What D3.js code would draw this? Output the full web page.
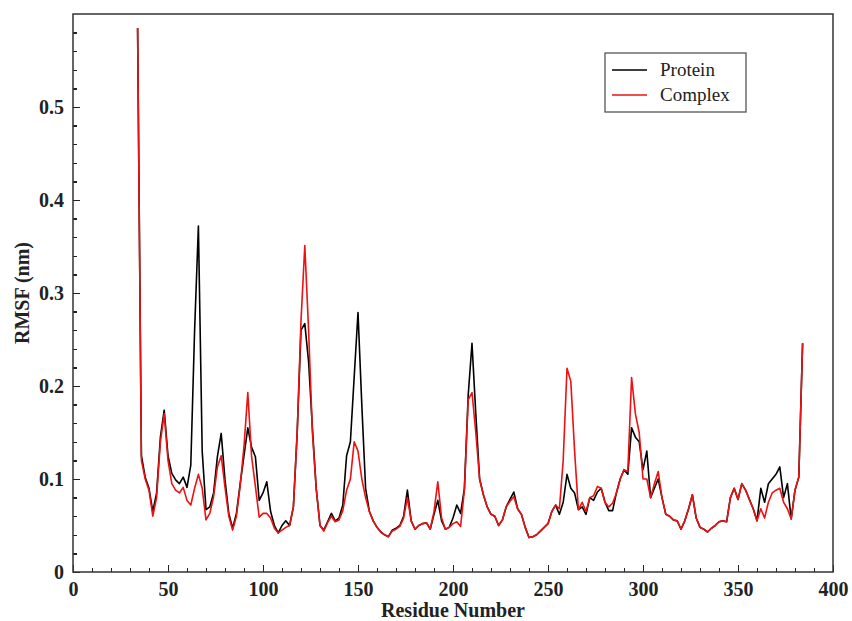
<!DOCTYPE html>
<html>
<head>
    <title>RMSF Protein vs Complex</title>
    <script src="https://d3js.org/d3.v7.min.js"></script>
    <style>
        body { margin: 0; background: #fff; }
        .axis path { display: none; }
        .axis line { stroke: #222; stroke-width: 1.3; shape-rendering: crispEdges; }
        .axis text { font-family: "Liberation Serif", "Times New Roman", serif; font-weight: bold; font-size: 20px; fill: #222; }
        .label { font-family: "Liberation Serif", "Times New Roman", serif; font-weight: bold; font-size: 20px; fill: #222; }
        .legend text { font-family: "Liberation Serif", "Times New Roman", serif; font-size: 19px; fill: #222; }
    </style>
</head>
<body>
    <script>
        // Residue numbers (every 2nd residue)
        const residues = d3.range(34, 385, 2);

        // RMSF (nm) of the free protein
        const protein = [
            0.585, 0.125, 0.102, 0.090, 0.065, 0.085, 0.145, 0.174, 0.125, 0.106,
            0.099, 0.095, 0.102, 0.091, 0.115, 0.260, 0.372, 0.130, 0.067, 0.070,
            0.085, 0.124, 0.149, 0.099, 0.063, 0.047, 0.063, 0.095, 0.125, 0.155,
            0.134, 0.124, 0.077, 0.085, 0.097, 0.065, 0.050, 0.042, 0.050, 0.055,
            0.050, 0.070, 0.150, 0.260, 0.267, 0.226, 0.155, 0.090, 0.050, 0.045,
            0.054, 0.063, 0.055, 0.058, 0.072, 0.125, 0.140, 0.210, 0.279, 0.180,
            0.090, 0.065, 0.055, 0.048, 0.043, 0.040, 0.038, 0.045, 0.047, 0.050,
            0.060, 0.088, 0.055, 0.046, 0.050, 0.052, 0.053, 0.046, 0.062, 0.077,
            0.055, 0.046, 0.048, 0.058, 0.072, 0.063, 0.090, 0.190, 0.246, 0.170,
            0.100, 0.083, 0.070, 0.062, 0.060, 0.050, 0.056, 0.070, 0.078, 0.086,
            0.068, 0.062, 0.048, 0.037, 0.038, 0.040, 0.044, 0.048, 0.052, 0.065,
            0.072, 0.062, 0.075, 0.105, 0.090, 0.085, 0.067, 0.070, 0.062, 0.080,
            0.077, 0.086, 0.090, 0.075, 0.066, 0.066, 0.085, 0.100, 0.110, 0.105,
            0.155, 0.145, 0.140, 0.110, 0.130, 0.080, 0.090, 0.100, 0.080, 0.062,
            0.060, 0.056, 0.055, 0.046, 0.055, 0.068, 0.083, 0.058, 0.048, 0.046,
            0.043, 0.047, 0.050, 0.054, 0.055, 0.054, 0.080, 0.090, 0.078, 0.095,
            0.088, 0.078, 0.068, 0.055, 0.090, 0.075, 0.095, 0.100, 0.105, 0.113,
            0.080, 0.095, 0.057, 0.088, 0.102, 0.246
        ];

        // RMSF (nm) of the protein-ligand complex
        const complex = [
            0.585, 0.120, 0.100, 0.088, 0.060, 0.080, 0.140, 0.170, 0.120, 0.095,
            0.088, 0.085, 0.091, 0.077, 0.072, 0.090, 0.105, 0.090, 0.056, 0.063,
            0.081, 0.113, 0.125, 0.091, 0.060, 0.045, 0.060, 0.093, 0.135, 0.193,
            0.124, 0.092, 0.059, 0.063, 0.063, 0.058, 0.047, 0.042, 0.045, 0.048,
            0.050, 0.070, 0.150, 0.270, 0.351, 0.260, 0.150, 0.090, 0.050, 0.044,
            0.053, 0.060, 0.054, 0.056, 0.066, 0.088, 0.100, 0.140, 0.130, 0.100,
            0.080, 0.065, 0.055, 0.048, 0.043, 0.040, 0.038, 0.044, 0.046, 0.049,
            0.058, 0.080, 0.055, 0.046, 0.050, 0.052, 0.053, 0.046, 0.065, 0.097,
            0.058, 0.046, 0.048, 0.052, 0.054, 0.049, 0.088, 0.185, 0.193, 0.150,
            0.100, 0.083, 0.070, 0.062, 0.060, 0.050, 0.056, 0.070, 0.076, 0.081,
            0.068, 0.062, 0.048, 0.037, 0.038, 0.040, 0.044, 0.048, 0.052, 0.065,
            0.072, 0.068, 0.120, 0.219, 0.205, 0.130, 0.067, 0.075, 0.065, 0.080,
            0.082, 0.092, 0.090, 0.075, 0.070, 0.074, 0.085, 0.100, 0.110, 0.108,
            0.209, 0.170, 0.150, 0.100, 0.100, 0.080, 0.095, 0.108, 0.080, 0.062,
            0.060, 0.056, 0.055, 0.046, 0.055, 0.068, 0.083, 0.058, 0.048, 0.046,
            0.043, 0.047, 0.050, 0.054, 0.055, 0.054, 0.080, 0.090, 0.078, 0.095,
            0.088, 0.078, 0.068, 0.055, 0.068, 0.058, 0.075, 0.085, 0.088, 0.090,
            0.075, 0.068, 0.057, 0.088, 0.102, 0.246
        ];

        const xTicks = [0, 50, 100, 150, 200, 250, 300, 350, 400];
        const yTicks = [0, 0.1, 0.2, 0.3, 0.4, 0.5];

        // SVG dimensions
        const svgWidth = 852;
        const svgHeight = 621;
        const margin = { top: 14, right: 19, bottom: 49, left: 73 };
        const width = svgWidth - margin.left - margin.right;
        const height = svgHeight - margin.top - margin.bottom;

        const svg = d3.select("body").append("svg")
            .attr("width", svgWidth)
            .attr("height", svgHeight);

        const g = svg.append("g")
            .attr("transform", `translate(${margin.left},${margin.top})`);

        // Scales
        const xScale = d3.scaleLinear().domain([0, 400]).range([0, width]);
        const yScale = d3.scaleLinear().domain([0, 0.6]).range([height, 0]);

        // Lines (protein first, complex drawn on top)
        const line = d3.line()
            .x((d, i) => xScale(residues[i]))
            .y(d => yScale(d));

        g.append("path")
            .datum(protein)
            .attr("fill", "none")
            .attr("stroke", "#000")
            .attr("stroke-width", 1.6)
            .attr("stroke-linejoin", "round")
            .attr("d", line);

        g.append("path")
            .datum(complex)
            .attr("fill", "none")
            .attr("stroke", "#ee1111")
            .attr("stroke-width", 1.6)
            .attr("stroke-linejoin", "round")
            .attr("d", line);

        // x-axis: major and minor ticks pointing inward
        g.append("g")
            .attr("class", "axis")
            .attr("transform", `translate(0,${height})`)
            .call(d3.axisBottom(xScale).tickValues(d3.range(0, 401, 10)).tickSize(-4).tickFormat(""));
        g.append("g")
            .attr("class", "axis")
            .attr("transform", `translate(0,${height})`)
            .call(d3.axisBottom(xScale).tickValues(xTicks).tickSizeInner(-7).tickSizeOuter(0).tickPadding(9).tickFormat(d3.format("d")))
            .selectAll("text").attr("dy", "0.75em");

        // y-axis
        g.append("g")
            .attr("class", "axis")
            .call(d3.axisLeft(yScale).tickValues(d3.range(0, 0.59, 0.02)).tickSize(-4).tickFormat(""));
        g.append("g")
            .attr("class", "axis")
            .call(d3.axisLeft(yScale).tickValues(yTicks).tickSizeInner(-7).tickSizeOuter(0).tickPadding(9).tickFormat(d => d === 0 ? "0" : d3.format(".1f")(d)));

        // frame
        g.append("rect")
            .attr("width", width)
            .attr("height", height)
            .attr("fill", "none")
            .attr("stroke", "#333")
            .attr("stroke-width", 1.5);

        // axis titles
        svg.append("text")
            .attr("class", "label")
            .attr("x", margin.left + width / 2)
            .attr("y", 617)
            .attr("text-anchor", "middle")
            .text("Residue Number");

        svg.append("text")
            .attr("class", "label")
            .attr("transform", `translate(29,${margin.top + height / 2}) rotate(-90)`)
            .attr("text-anchor", "middle")
            .text("RMSF (nm)");

        // legend
        const legend = svg.append("g").attr("class", "legend");
        legend.append("rect")
            .attr("x", 605).attr("y", 53)
            .attr("width", 141).attr("height", 59)
            .attr("fill", "#fff")
            .attr("stroke", "#555")
            .attr("stroke-width", 1.3);

        const items = [
            { name: "Protein", color: "#000" },
            { name: "Complex", color: "#ee1111" }
        ];
        items.forEach((it, i) => {
            const y = 70 + i * 25;
            legend.append("line")
                .attr("x1", 612).attr("x2", 647)
                .attr("y1", y).attr("y2", y)
                .attr("stroke", it.color)
                .attr("stroke-width", 1.6);
            legend.append("text")
                .attr("x", 660).attr("y", y + 6)
                .text(it.name);
        });
    </script>
</body>
</html>
